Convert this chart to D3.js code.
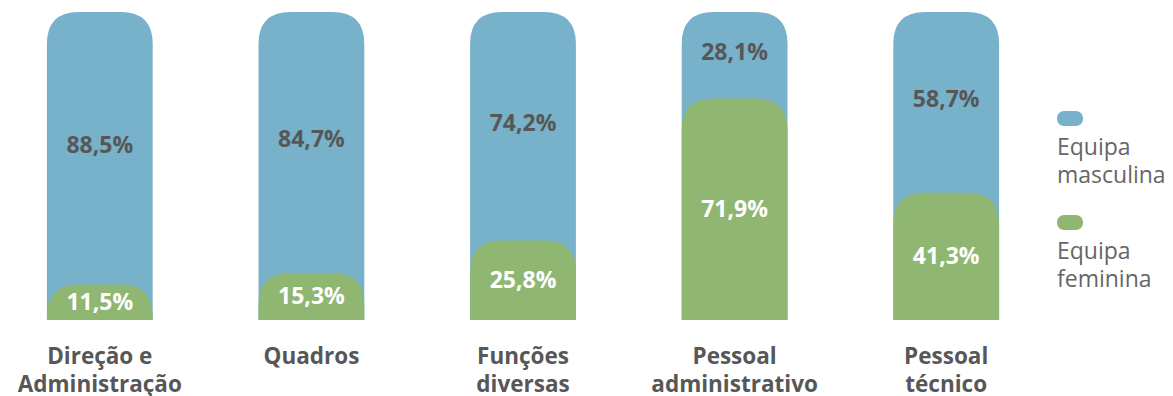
<!DOCTYPE html>
<html>
<head>
<meta charset="utf-8">
<script src="https://cdn.jsdelivr.net/npm/d3@7"></script>
<style>
  body { margin: 0; background: #fff; }
  svg { display: block; font-family: 'Open Sans', sans-serif; }
</style>
</head>
<body>
<svg id="chart" width="1173" height="396"></svg>
<script>
/* global d3 */

const categories = [['Direção e', 'Administração'], ['Quadros'], ['Funções', 'diversas'], ['Pessoal', 'administrativo'], ['Pessoal', 'técnico']]
const male = [88.5, 84.7, 74.2, 28.1, 58.7]
const female = [11.5, 15.3, 25.8, 71.9, 41.3]
const seriesNames = [['Equipa', 'masculina'], ['Equipa', 'feminina']]

const blue = '#77b1ca'
const green = '#90b772'
const radius = 32

const svg = d3.select('#chart')

const x = d3.scaleBand()
  .domain(d3.range(categories.length))
  .range([-6, 1052])
  .paddingInner(0.5)
  .paddingOuter(0.25)

const y = d3.scaleLinear().domain([0, 100]).range([320, 12])

const fmt = v => d3.format('.1f')(v).replace('.', ',') + '%'

// bar with rounded top corners
function topRounded(x0, y0, w, h, r) {
  const rr = Math.min(r, h, w / 2)
  return 'M' + x0 + ',' + (y0 + h) +
    'V' + (y0 + rr) +
    'Q' + x0 + ',' + y0 + ' ' + (x0 + rr) + ',' + y0 +
    'H' + (x0 + w - rr) +
    'Q' + (x0 + w) + ',' + y0 + ' ' + (x0 + w) + ',' + (y0 + rr) +
    'V' + (y0 + h) + 'Z'
}

const rows = categories.map((c, i) => ({ i, male: male[i], female: female[i] }))

const g = svg.selectAll('.bar').data(rows).enter().append('g').attr('class', 'bar')

g.append('path')
  .attr('fill', blue)
  .attr('d', d => topRounded(x(d.i), y(100), x.bandwidth(), y(0) - y(100), radius))

g.append('path')
  .attr('fill', green)
  .attr('d', d => topRounded(x(d.i), y(d.female), x.bandwidth(), y(0) - y(d.female), radius))

g.append('text')
  .attr('x', d => x(d.i) + x.bandwidth() / 2)
  .attr('y', d => (y(100) + y(d.female)) / 2 - 3)
  .attr('dy', '0.35em')
  .attr('text-anchor', 'middle')
  .attr('font-size', 23)
  .attr('font-weight', 'bold')
  .attr('fill', '#575757')
  .text(d => fmt(d.male))

g.append('text')
  .attr('x', d => x(d.i) + x.bandwidth() / 2)
  .attr('y', d => (y(0) + y(d.female)) / 2)
  .attr('dy', '0.35em')
  .attr('text-anchor', 'middle')
  .attr('font-size', 23)
  .attr('font-weight', 'bold')
  .attr('fill', '#fff')
  .text(d => fmt(d.female))

// category labels
const cat = svg.selectAll('.cat').data(categories).enter().append('text')
  .attr('class', 'cat')
  .attr('text-anchor', 'middle')
  .attr('font-size', 22.5)
  .attr('font-weight', 'bold')
  .attr('fill', '#575757')
  .attr('x', (d, i) => x(i) + x.bandwidth() / 2)
  .attr('y', 364)
cat.selectAll('tspan').data(d => d).enter().append('tspan')
  .attr('x', function () { return this.parentNode.getAttribute('x') })
  .attr('dy', (d, i) => i === 0 ? 0 : 28)
  .text(d => d)

// legend
const legend = svg.selectAll('.legend').data(seriesNames).enter().append('g')
  .attr('class', 'legend')
  .attr('transform', (d, i) => 'translate(1057,' + (111 + i * 104) + ')')
legend.append('rect')
  .attr('width', 26).attr('height', 15).attr('rx', 7)
  .attr('fill', (d, i) => i === 0 ? blue : green)
const lt = legend.append('text')
  .attr('font-size', 23)
  .attr('fill', '#666')
  .attr('y', 44)
lt.selectAll('tspan').data(d => d).enter().append('tspan')
  .attr('x', 0)
  .attr('dy', (d, i) => i === 0 ? 0 : 28)
  .text(d => d)
</script>
</body>
</html>
